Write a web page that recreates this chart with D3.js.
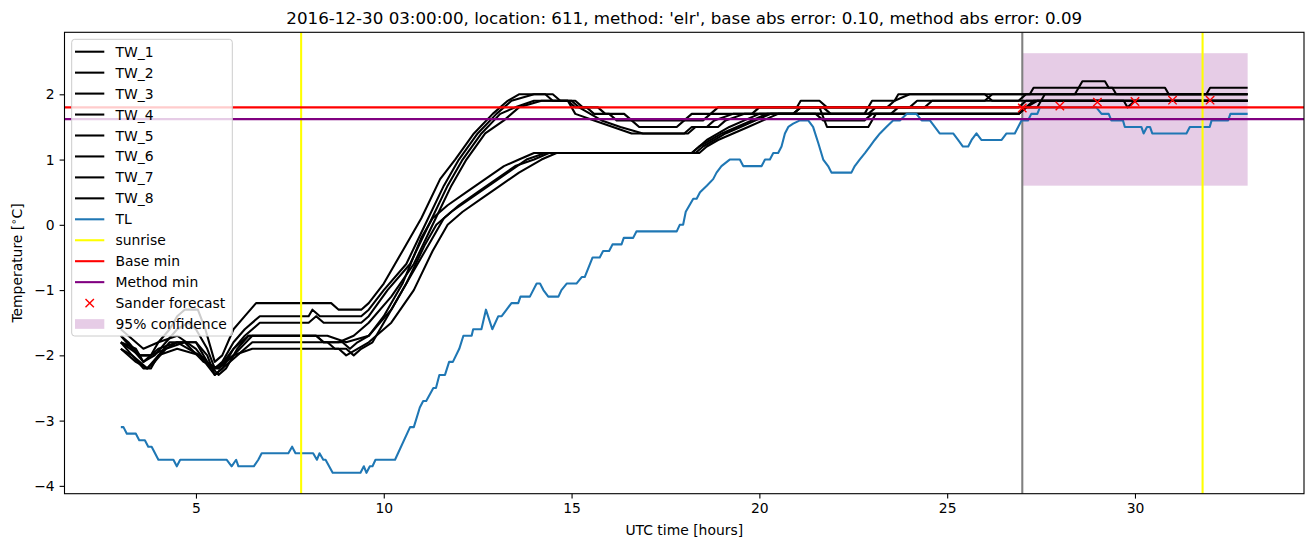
<!DOCTYPE html>
<html><head><meta charset="utf-8">
<script src="https://cdn.jsdelivr.net/npm/d3@7"></script>
<style>body{margin:0;background:#fff}svg{display:block}text{font-family:"DejaVu Sans",sans-serif}</style>
</head><body><svg id="c" width="1313" height="547"></svg>
<script>
const xTicks=[5,10,15,20,25,30];
const yTicks=[-4,-3,-2,-1,0,1,2];
const sunrise=[7.8,31.8];
const forecastStart=27;
const baseMin=1.8, methodMin=1.62;
const confidence={t0:27,t1:33,lo:0.6,hi:2.63};
const forecastT=[27,28,29,30,31,32];
const forecastV=[1.79,1.82,1.88,1.89,1.91,1.91];
const tw1=[[3.0,-1.7],[3.2,-1.8],[3.5,-2.0],[3.8,-2.0],[4.0,-1.8],[4.3,-1.6],[4.5,-1.4],[4.7,-1.3],[5.05,-1.3],[5.25,-1.6],[5.5,-2.1],[5.7,-2.0],[6.0,-1.6],[6.3,-1.4],[6.6,-1.2],[8.6,-1.2],[8.8,-1.3],[9.4,-1.3],[9.6,-1.2],[10.0,-0.9],[10.5,-0.4],[11.0,0.1],[11.5,0.7],[11.9,1.0],[12.4,1.4],[12.9,1.7],[13.3,1.9],[13.6,2.0],[14.5,2.0],[14.7,1.9],[15.1,1.9],[15.3,1.8],[15.7,1.8],[15.9,1.7],[16.4,1.7],[16.6,1.6],[18.0,1.6],[18.2,1.7],[18.7,1.7],[18.9,1.8],[21.0,1.8],[21.1,1.9],[21.6,1.9],[21.8,1.8],[22.9,1.8],[23.0,1.9],[23.6,1.9],[23.7,2.0],[27.2,2.0],[27.3,2.1],[28.5,2.1],[28.6,2.2],[29.2,2.2],[29.3,2.1],[30.8,2.1],[30.9,2.0],[31.9,2.0],[32.0,2.1],[33.0,2.1]];
const tw2=[[3.0,-1.8],[3.4,-1.9],[3.6,-2.1],[3.9,-2.0],[4.2,-1.8],[4.5,-1.6],[4.8,-1.5],[5.0,-1.6],[5.3,-1.9],[5.5,-2.2],[5.7,-2.1],[6.0,-1.8],[6.3,-1.6],[6.7,-1.4],[8.0,-1.4],[8.1,-1.3],[8.3,-1.4],[9.4,-1.4],[9.6,-1.3],[10.0,-1.0],[10.6,-0.6],[11.1,0.0],[11.6,0.6],[12.0,1.0],[12.5,1.4],[13.0,1.7],[13.4,1.9],[14.0,2.0],[14.3,2.0],[14.5,1.9],[14.9,1.9],[15.1,1.8],[15.4,1.8],[15.6,1.7],[16.0,1.7],[16.2,1.6],[16.6,1.6],[16.8,1.5],[17.8,1.5],[18.0,1.6],[18.5,1.6],[18.7,1.7],[19.8,1.7],[20.0,1.8],[21.7,1.8],[21.9,1.7],[22.8,1.7],[22.9,1.8],[23.4,1.8],[23.6,1.9],[24.0,2.0],[26.0,2.0],[26.2,1.9],[26.9,1.9],[27.1,2.0],[28.4,2.0],[28.5,2.1],[29.4,2.1],[29.5,2.0],[33.0,2.0]];
const tw3=[[3.0,-1.8],[3.3,-2.0],[3.6,-2.2],[3.8,-2.2],[4.0,-2.0],[4.3,-1.8],[5.0,-1.8],[5.3,-2.0],[5.5,-2.3],[5.7,-2.2],[6.0,-1.9],[6.3,-1.7],[6.7,-1.5],[8.0,-1.5],[8.2,-1.4],[8.4,-1.5],[9.4,-1.5],[9.6,-1.4],[10.1,-1.0],[10.7,-0.6],[11.2,0.0],[11.7,0.6],[12.1,1.0],[12.6,1.4],[13.1,1.7],[13.5,1.8],[14.0,1.9],[15.0,1.9],[15.2,1.8],[15.5,1.7],[15.8,1.6],[16.3,1.5],[16.9,1.4],[18.0,1.4],[18.2,1.5],[18.6,1.5],[18.8,1.6],[19.3,1.7],[21.5,1.7],[21.7,1.6],[22.8,1.6],[23.0,1.7],[23.5,1.7],[23.7,1.8],[24.4,1.8],[24.6,1.9],[29.7,1.9],[29.8,1.8],[30.0,1.9],[33.0,1.9]];
const tw4=[[3.0,-1.9],[3.3,-2.0],[3.7,-2.2],[3.9,-2.1],[4.2,-1.9],[4.5,-1.8],[5.0,-1.8],[5.3,-2.1],[5.6,-2.3],[5.8,-2.2],[6.1,-1.9],[6.4,-1.7],[8.2,-1.7],[8.4,-1.8],[8.8,-1.8],[9.2,-1.7],[9.6,-1.5],[10.2,-1.1],[10.8,-0.6],[11.3,0.0],[11.8,0.6],[12.2,1.0],[12.7,1.4],[13.2,1.6],[13.6,1.8],[14.2,1.9],[14.9,1.9],[15.1,1.7],[15.6,1.6],[16.1,1.5],[16.6,1.4],[18.1,1.4],[18.3,1.5],[18.9,1.5],[19.1,1.6],[19.6,1.7],[20.9,1.7],[21.1,1.8],[21.6,1.8],[21.8,1.5],[22.9,1.5],[23.1,1.7],[26.9,1.7],[27.1,1.8],[27.3,1.9],[33.0,1.9]];
const tw5=[[3.0,-1.6],[3.2,-1.7],[3.6,-1.9],[4.0,-1.8],[4.5,-1.7],[5.0,-1.9],[5.4,-2.2],[5.6,-2.2],[6.0,-1.9],[6.4,-1.7],[8.2,-1.7],[8.4,-1.8],[8.9,-1.8],[9.1,-1.9],[9.3,-1.8],[9.6,-1.7],[10.0,-1.4],[10.5,-0.9],[11.0,-0.2],[11.3,0.1],[11.7,0.3],[12.2,0.5],[12.7,0.7],[13.2,0.9],[13.6,1.0],[14.0,1.1],[18.2,1.1],[18.4,1.2],[18.6,1.3],[18.9,1.4],[19.2,1.5],[19.6,1.6],[20.0,1.7],[22.9,1.7],[23.1,1.8],[26.9,1.8],[27.1,1.9],[33.0,1.9]];
const tw6=[[3.0,-1.7],[3.3,-1.9],[3.6,-2.1],[4.0,-1.9],[4.5,-1.8],[5.1,-2.0],[5.5,-2.3],[5.7,-2.2],[6.1,-2.0],[6.5,-1.8],[8.5,-1.8],[8.7,-1.9],[9.0,-1.9],[9.2,-2.0],[9.4,-1.9],[9.7,-1.8],[10.1,-1.4],[10.6,-0.9],[11.1,-0.3],[11.4,0.0],[11.8,0.2],[12.3,0.4],[12.8,0.6],[13.3,0.8],[13.8,1.0],[14.3,1.1],[18.3,1.1],[18.5,1.2],[18.8,1.3],[19.1,1.4],[19.5,1.5],[19.9,1.6],[20.3,1.7],[26.9,1.7],[27.1,1.8],[27.4,1.9],[33.0,1.9]];
const tw7=[[3.0,-1.9],[3.4,-2.1],[3.7,-2.2],[4.0,-2.0],[4.5,-1.9],[5.1,-2.0],[5.5,-2.2],[6.0,-2.0],[6.5,-1.7],[8.5,-1.7],[9.0,-1.8],[9.6,-1.7],[10.2,-1.3],[10.7,-0.8],[11.2,-0.3],[11.6,0.1],[12.0,0.3],[12.5,0.5],[13.0,0.7],[13.5,0.9],[14.0,1.0],[14.4,1.1],[18.2,1.1],[18.4,1.2],[18.7,1.3],[19.0,1.4],[19.4,1.5],[19.8,1.6],[20.2,1.7],[20.9,1.7],[21.1,1.8],[24.0,1.8],[24.2,1.9],[26.0,1.9],[26.2,2.0],[33.0,2.0]];
const tw8=[[3.0,-1.8],[3.5,-2.0],[3.8,-2.0],[4.2,-1.9],[4.7,-1.8],[5.2,-2.1],[5.6,-2.2],[6.0,-2.0],[6.5,-1.9],[8.8,-1.9],[9.0,-2.0],[9.3,-1.9],[9.6,-1.8],[10.2,-1.5],[10.8,-1.0],[11.3,-0.4],[11.7,0.0],[12.1,0.2],[12.6,0.4],[13.1,0.6],[13.6,0.8],[14.2,1.0],[14.6,1.1],[18.4,1.1],[18.6,1.2],[18.9,1.3],[19.3,1.4],[19.7,1.5],[20.1,1.6],[20.5,1.7],[26.9,1.7],[27.1,1.8],[27.4,1.8],[27.6,2.0],[33.0,2.0]];
const tl=[[3.0,-3.1],[3.07,-3.1],[3.16,-3.2],[3.40,-3.2],[3.49,-3.3],[3.64,-3.3],[3.73,-3.4],[3.82,-3.4],[4.0,-3.6],[4.4,-3.6],[4.49,-3.7],[4.58,-3.6],[5.82,-3.6],[5.95,-3.7],[6.07,-3.6],[6.13,-3.7],[6.54,-3.7],[6.66,-3.6],[6.75,-3.5],[7.46,-3.5],[7.56,-3.4],[7.65,-3.5],[8.12,-3.5],[8.22,-3.6],[8.29,-3.5],[8.39,-3.6],[8.45,-3.6],[8.64,-3.8],[9.38,-3.8],[9.47,-3.7],[9.54,-3.8],[9.63,-3.7],[9.7,-3.7],[9.78,-3.6],[10.30,-3.6],[10.7,-3.1],[10.8,-3.1],[10.96,-2.8],[11.05,-2.7],[11.13,-2.7],[11.32,-2.5],[11.39,-2.5],[11.48,-2.3],[11.63,-2.3],[11.74,-2.1],[11.84,-2.1],[12.01,-1.9],[12.12,-1.7],[12.34,-1.7],[12.38,-1.6],[12.6,-1.6],[12.72,-1.3],[12.89,-1.6],[13.05,-1.4],[13.14,-1.4],[13.27,-1.3],[13.4,-1.2],[13.58,-1.2],[13.64,-1.1],[13.89,-1.1],[14.07,-0.9],[14.16,-0.9],[14.25,-1.0],[14.38,-1.1],[14.65,-1.1],[14.73,-1.0],[14.87,-0.9],[15.13,-0.9],[15.27,-0.8],[15.35,-0.8],[15.56,-0.5],[15.75,-0.5],[15.84,-0.4],[16.0,-0.4],[16.09,-0.3],[16.33,-0.3],[16.39,-0.2],[16.64,-0.2],[16.73,-0.1],[17.8,-0.1],[17.88,0.0],[17.97,0.0],[18.04,0.2],[18.24,0.4],[18.33,0.4],[18.42,0.5],[18.6,0.6],[18.77,0.7],[18.86,0.8],[18.99,0.9],[19.21,1.0],[19.48,1.0],[19.57,0.9],[20.06,0.9],[20.15,1.0],[20.28,1.0],[20.37,1.1],[20.5,1.1],[20.59,1.2],[20.68,1.4],[20.77,1.5],[20.9,1.55],[21.08,1.6],[21.3,1.6],[21.43,1.5],[21.57,1.25],[21.7,1.0],[21.83,0.9],[21.92,0.8],[22.45,0.8],[22.54,0.9],[22.67,1.0],[22.81,1.1],[22.94,1.2],[23.07,1.3],[23.21,1.4],[23.38,1.5],[23.56,1.6],[23.74,1.6],[23.92,1.7],[24.18,1.7],[24.32,1.6],[24.54,1.6],[24.67,1.5],[24.8,1.4],[25.16,1.4],[25.29,1.3],[25.42,1.2],[25.56,1.2],[25.65,1.3],[25.78,1.4],[25.91,1.3],[26.45,1.3],[26.58,1.4],[26.8,1.4],[26.89,1.5],[26.98,1.6],[27.15,1.6],[27.24,1.7],[27.4,1.7],[27.47,1.8],[28.97,1.8],[29.11,1.7],[29.3,1.7],[29.37,1.6],[29.68,1.6],[29.73,1.5],[30.17,1.5],[30.23,1.4],[30.32,1.5],[30.4,1.5],[30.46,1.4],[31.37,1.4],[31.46,1.5],[31.99,1.5],[32.04,1.6],[32.48,1.6],[32.54,1.7],[33.0,1.7]];
const twSeries=[tw1,tw2,tw3,tw4,tw5,tw6,tw7,tw8];
const legendLabels=["TW_1","TW_2","TW_3","TW_4","TW_5","TW_6","TW_7","TW_8","TL","sunrise","Base min","Method min","Sander forecast","95% confidence"];
const title="2016-12-30 03:00:00, location: 611, method: 'elr', base abs error: 0.10, method abs error: 0.09";

const svg=d3.select("#c");
const L=64.5,R=1304,T=32.3,B=493.7;
const x=d3.scaleLinear().domain([1.5,34.5]).range([L,R]);
const y=d3.scaleLinear().domain([-4.12,2.95]).range([B,T]);
const clip=svg.append("clipPath").attr("id","cp").append("rect").attr("x",L).attr("y",T).attr("width",R-L).attr("height",B-T);
const g=svg.append("g").attr("clip-path","url(#cp)");
const line=d3.line().x(d=>x(d[0])).y(d=>y(d[1]));
// confidence
g.append("rect").attr("x",x(confidence.t0)).attr("width",x(confidence.t1)-x(confidence.t0))
 .attr("y",y(confidence.hi)).attr("height",y(confidence.lo)-y(confidence.hi)).attr("fill","purple").attr("fill-opacity",0.2);
// forecast start line
g.append("line").attr("x1",x(forecastStart)).attr("x2",x(forecastStart)).attr("y1",T).attr("y2",B).attr("stroke","gray").attr("stroke-width",2.08);
twSeries.forEach(s=>g.append("path").attr("d",line(s)).attr("fill","none").attr("stroke","black").attr("stroke-width",2.08).attr("stroke-linejoin","round"));
g.append("path").attr("d",line(tl)).attr("fill","none").attr("stroke","#1f77b4").attr("stroke-width",2.08).attr("stroke-linejoin","round");
sunrise.forEach(s=>g.append("line").attr("x1",x(s)).attr("x2",x(s)).attr("y1",T).attr("y2",B).attr("stroke","yellow").attr("stroke-width",2.08));
g.append("line").attr("x1",L).attr("x2",R).attr("y1",y(baseMin)).attr("y2",y(baseMin)).attr("stroke","red").attr("stroke-width",2.08);
g.append("line").attr("x1",L).attr("x2",R).attr("y1",y(methodMin)).attr("y2",y(methodMin)).attr("stroke","purple").attr("stroke-width",2.08);
const xm=4.2;
forecastT.forEach((t,i)=>{const cx=x(t),cy=y(forecastV[i]);
 g.append("path").attr("d",`M${cx-xm},${cy-xm}L${cx+xm},${cy+xm}M${cx-xm},${cy+xm}L${cx+xm},${cy-xm}`).attr("stroke","red").attr("stroke-width",1.4);});
// axes
const ax=svg.append("g").attr("transform",`translate(0,${B})`).call(d3.axisBottom(x).tickValues(xTicks).tickSize(4.9).tickPadding(4.9).tickFormat(d3.format("d")));
const ay=svg.append("g").attr("transform",`translate(${L},0)`).call(d3.axisLeft(y).tickValues(yTicks).tickSize(4.9).tickPadding(4.9).tickFormat(d=>d<0?"\u2212"+Math.abs(d):d));
[ax,ay].forEach(a=>{a.select(".domain").remove();a.selectAll("line").attr("stroke","black").attr("stroke-width",1.1);a.selectAll("text").attr("font-size",13.9).attr("fill","black").attr("font-family","DejaVu Sans");});
svg.append("rect").attr("x",L).attr("y",T).attr("width",R-L).attr("height",B-T).attr("fill","none").attr("stroke","black").attr("stroke-width",1.1);
svg.append("text").attr("x",(L+R)/2).attr("y",24).attr("text-anchor","middle").attr("font-size",16.7).text(title);
svg.append("text").attr("x",(L+R)/2).attr("y",535).attr("text-anchor","middle").attr("font-size",13.9).text("UTC time [hours]");
const yl=svg.append("text").attr("transform",`translate(22,${(T+B)/2}) rotate(-90)`).attr("text-anchor","middle").attr("font-size",13.9);
yl.append("tspan").text("Temperature [");
yl.append("tspan").text("\u2218").attr("font-size",10).attr("dy",-5);
yl.append("tspan").text("C]").attr("dy",5);
// legend
const lg=svg.append("g");
lg.append("rect").attr("x",71.7).attr("y",39.3).attr("width",160.6).attr("height",296.7).attr("rx",3).attr("fill","white").attr("fill-opacity",0.8).attr("stroke","#cccccc");
const colors=["black","black","black","black","black","black","black","black","#1f77b4","yellow","red","purple"];
legendLabels.forEach((lab,i)=>{const cy=51.7+i*20.95;
 if(i<12) lg.append("line").attr("x1",75).attr("x2",104.3).attr("y1",cy).attr("y2",cy).attr("stroke",colors[i]).attr("stroke-width",2.08);
 else if(i===12) lg.append("path").attr("d",`M${89.7-xm},${cy-xm}L${89.7+xm},${cy+xm}M${89.7-xm},${cy+xm}L${89.7+xm},${cy-xm}`).attr("stroke","red").attr("stroke-width",1.4);
 else lg.append("rect").attr("x",75).attr("y",cy-4.9).attr("width",29.3).attr("height",9.7).attr("fill","purple").attr("fill-opacity",0.2);
 lg.append("text").attr("x",115.5).attr("y",cy+5).attr("font-size",13.9).text(lab);});
</script></body></html>
